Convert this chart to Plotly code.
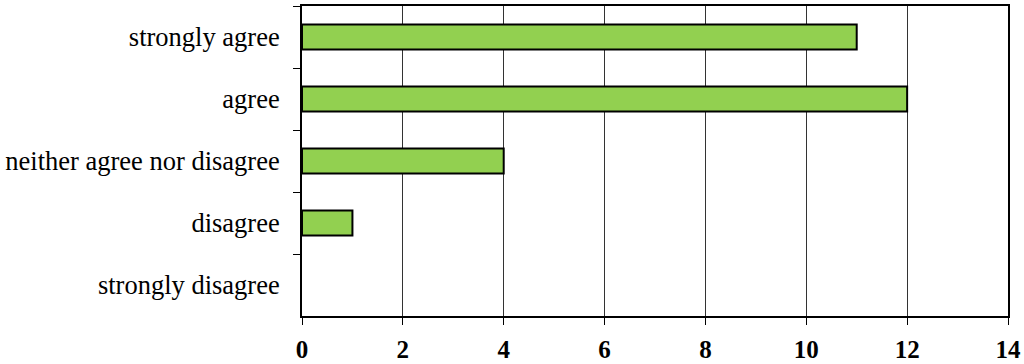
import plotly.graph_objects as go

categories = ["strongly agree", "agree", "neither agree nor disagree", "disagree", "strongly disagree"]
counts = [11, 12, 4, 1, 0]
x_ticks = [0, 2, 4, 6, 8, 10, 12, 14]

fig = go.Figure(go.Bar(
    y=categories, x=counts, orientation="h",
    marker=dict(color="#92D050", line=dict(color="black", width=[2 if c > 0 else 0 for c in counts])),
    width=0.4,
))

fig.update_layout(
    width=1024, height=364,
    margin=dict(l=302, r=16, t=6, b=48),
    plot_bgcolor="white", paper_bgcolor="white",
    font=dict(family="Liberation Serif", size=26.5, color="black"),
    showlegend=False,
)
fig.update_xaxes(
    range=[0, 14], tickvals=x_ticks, ticks="outside", ticklen=7, tickcolor="black",
    tickfont=dict(family="Liberation Serif", size=25, color="black", weight="bold"),
    showgrid=True, gridcolor="#333333", gridwidth=1,
    showline=True, linecolor="black", linewidth=2, mirror=True, zeroline=False,
    ticklabelstandoff=3, automargin=False,
)
fig.update_yaxes(
    categoryorder="array", categoryarray=categories, autorange="reversed",
    ticks="outside", ticklen=7, tickcolor="black", tickson="boundaries",
    showline=True, linecolor="black", linewidth=2, mirror=True,
    ticklabelstandoff=15, automargin=False,
)

fig.write_html(
    "out.html",
    config={"displayModeBar": False},
    post_script="document.body.style.margin='0';document.body.style.padding='0';",
)
